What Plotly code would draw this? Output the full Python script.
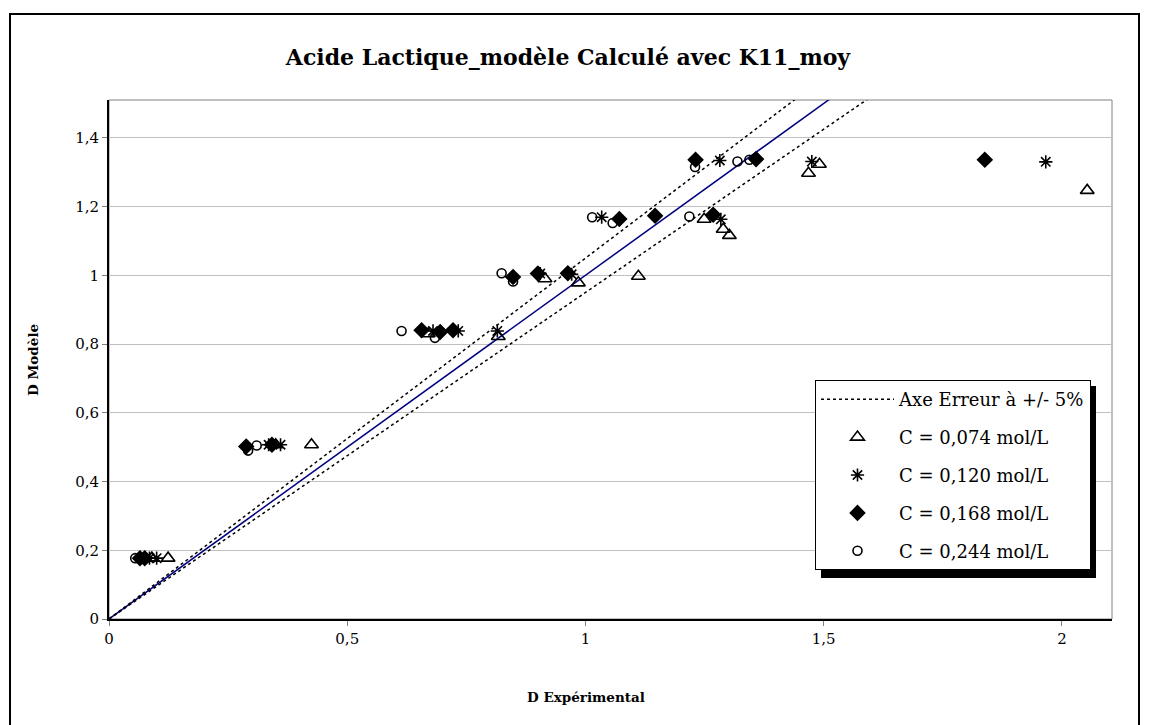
import plotly.graph_objs as go

# reference line y = x and +/- 5% error axes
line_x = [0, 1.6]
line_y = [0, 1.6]
err_up_y = [0, 1.68]
err_low_y = [0, 1.52]

# C = 0,074 mol/L
c074_x = [0.09, 0.124, 0.35, 0.425, 0.67, 0.817, 0.915, 0.985, 1.111, 1.249, 1.289, 1.302, 1.468, 1.491, 2.053]
c074_y = [0.177, 0.177, 0.507, 0.507, 0.83, 0.822, 0.99, 0.978, 0.997, 1.163, 1.134, 1.116, 1.297, 1.323, 1.247]

# C = 0,120 mol/L
c120_x = [0.085, 0.1, 0.335, 0.36, 0.68, 0.733, 0.815, 0.905, 0.971, 1.034, 1.284, 1.282, 1.475, 1.966]
c120_y = [0.177, 0.177, 0.507, 0.507, 0.838, 0.838, 0.838, 1.005, 1.003, 1.169, 1.163, 1.334, 1.331, 1.33]

# C = 0,168 mol/L
c168_x = [0.065, 0.075, 0.288, 0.342, 0.656, 0.695, 0.722, 0.848, 0.9, 0.963, 1.071, 1.146, 1.268, 1.231, 1.358, 1.838]
c168_y = [0.177, 0.177, 0.502, 0.507, 0.84, 0.835, 0.84, 0.995, 1.005, 1.006, 1.164, 1.173, 1.176, 1.336, 1.338, 1.336]

# C = 0,244 mol/L
c244_x = [0.055, 0.065, 0.292, 0.31, 0.614, 0.684, 0.824, 0.848, 1.014, 1.057, 1.218, 1.23, 1.319, 1.344]
c244_y = [0.177, 0.177, 0.49, 0.505, 0.838, 0.818, 1.006, 0.982, 1.169, 1.152, 1.171, 1.315, 1.331, 1.336]

x_ticks = [0, 0.5, 1, 1.5, 2]
y_ticks = [0, 0.2, 0.4, 0.6, 0.8, 1, 1.2, 1.4]

font_family = "DejaVu Serif"

fig = go.Figure()

fig.add_trace(go.Scatter(x=line_x, y=line_y, mode='lines',
                         line=dict(color='#000080', width=1.5),
                         showlegend=False, hoverinfo='skip'))
fig.add_trace(go.Scatter(x=line_x, y=err_up_y, mode='lines',
                         name='Axe Erreur à +/- 5%', legendgroup='err',
                         line=dict(color='black', width=1.5, dash='dot')))
fig.add_trace(go.Scatter(x=line_x, y=err_low_y, mode='lines',
                         legendgroup='err', showlegend=False,
                         line=dict(color='black', width=1.5, dash='dot')))

series = [
    (c074_x, c074_y, 'C = 0,074 mol/L', 'triangle-up-open', 12),
    (c120_x, c120_y, 'C = 0,120 mol/L', 'asterisk-open', 11),
    (c168_x, c168_y, 'C = 0,168 mol/L', 'diamond', 11),
    (c244_x, c244_y, 'C = 0,244 mol/L', 'circle-open', 9),
]
for i, (sx, sy, name, symbol, size) in enumerate(series):
    fig.add_trace(go.Scatter(x=sx, y=sy, mode='markers', name=name,
                             legendgroup='g%d' % i,
                             marker=dict(symbol=symbol, size=size, color='black',
                                         line=dict(color='black', width=1.6))))

# page has an 8px body margin; plot area on screen: left 109, right 1112, top 100, bottom 619
pw, ph = 1003.0, 519.0


def px_x(p):
    return (p - 109) / pw


def px_y(p):
    return (619 - p) / ph


shapes = [
    # outer chart border
    dict(type='rect', xref='paper', yref='paper', x0=px_x(10), x1=px_x(1139),
         y0=px_y(740), y1=px_y(14), line=dict(color='black', width=2), layer='below'),
    # plot area border
    dict(type='rect', xref='paper', yref='paper', x0=0, x1=1, y0=0, y1=1,
         line=dict(color='#808080', width=1), layer='below'),
    # legend shadow
    dict(type='rect', xref='paper', yref='paper', x0=px_x(821), x1=px_x(1096),
         y0=px_y(578), y1=px_y(386), fillcolor='black', line=dict(width=0), layer='above'),
]

fig.update_layout(
    width=1141, height=717,
    margin=dict(l=101, r=37, t=92, b=106),
    paper_bgcolor='white', plot_bgcolor='white',
    separators=', ',
    font=dict(family=font_family, size=15, color='black'),
    title=dict(text='<b>Acide Lactique_modèle Calculé avec K11_moy</b>',
               xref='paper', x=px_x(568), xanchor='center',
               y=1 - 49 / 717, yanchor='middle',
               font=dict(size=22, family=font_family)),
    shapes=shapes,
    showlegend=True,
    legend=dict(x=px_x(815), y=px_y(380), xanchor='left', yanchor='top',
                bgcolor='white', bordercolor='black', borderwidth=1,
                font=dict(size=18, family=font_family), itemwidth=73,
                traceorder='grouped', tracegroupgap=11.5),
    xaxis=dict(range=[0, 2.105], tickvals=x_ticks, showgrid=False, zeroline=False,
               showline=True, linecolor='black', linewidth=2,
               ticks='outside', ticklen=5, tickcolor='#808080'),
    yaxis=dict(range=[0, 1.51], tickvals=y_ticks, showgrid=True, gridcolor='#c0c0c0',
               gridwidth=1, zeroline=False, showline=True, linecolor='black', linewidth=2,
               ticks='outside', ticklen=5, tickcolor='#808080'),
    annotations=[
        dict(text='<b>D Expérimental</b>', xref='paper', yref='paper',
             x=px_x(586), y=px_y(697), xanchor='center', yanchor='middle',
             showarrow=False, font=dict(size=13.5, family=font_family)),
        dict(text='<b>D Modèle</b>', xref='paper', yref='paper',
             x=px_x(33), y=px_y(360), xanchor='center', yanchor='middle',
             textangle=-90, showarrow=False, font=dict(size=13.5, family=font_family)),
    ],
)

fig.write_html("out.html")
